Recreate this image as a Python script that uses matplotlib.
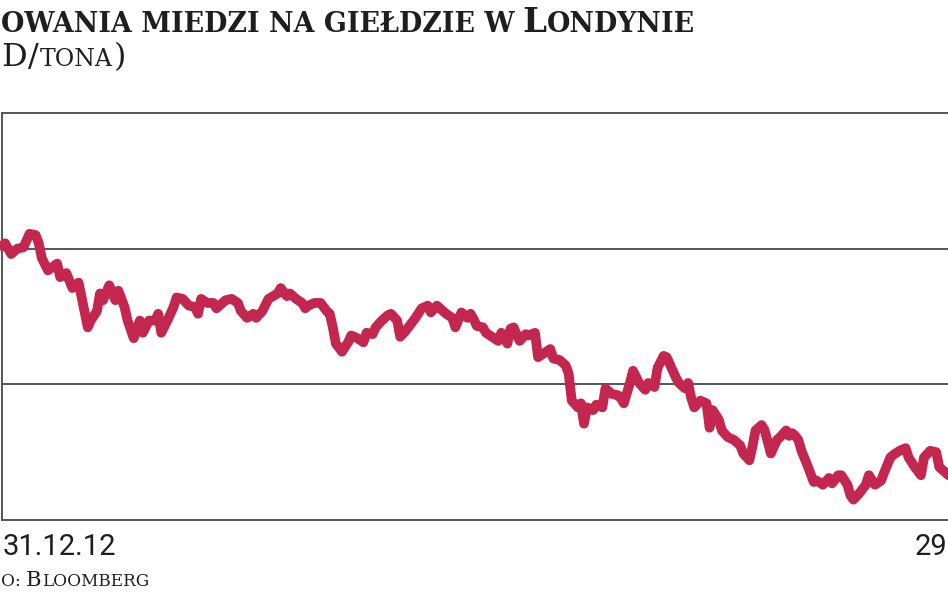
import matplotlib
matplotlib.use("Agg")
import matplotlib.pyplot as plt

# ---- data ----
day = [0, 1, 3, 5, 7, 9, 11, 12, 13, 15, 18, 19, 21, 23, 25, 26, 28, 29, 31, 32,
       33, 35, 37, 38, 40, 41, 43, 45, 46, 48, 50, 51, 52, 54, 56, 57, 59, 61, 63, 64,
       65, 67, 69, 70, 72, 73, 75, 77, 78, 80, 82, 83, 85, 87, 90, 91, 93, 94, 96, 98,
       99, 100, 102, 104, 106, 107, 108, 109, 111, 113, 114, 116, 118, 119, 121, 122, 124, 126, 127, 129,
       130, 132, 134, 135, 137, 139, 140, 142, 143, 145, 147, 148, 150, 152, 153, 154, 155, 157, 158, 160,
       162, 163, 165, 166, 167, 169, 171, 172, 174, 175, 177, 179, 180, 182, 184, 185, 186, 188, 189, 190,
       191, 193, 194, 196, 197, 199, 201, 202, 203, 205, 206, 208, 210, 211, 213, 214, 216, 217, 218, 220,
       221, 223, 224, 225, 226, 228, 229, 230, 231, 232, 234, 235, 237, 239, 241, 242, 244, 245, 246, 248,
       249, 251, 253, 254, 256, 257, 258, 259, 260, 261, 263, 265, 266, 268, 270, 271, 273, 274, 276, 277,
       278, 280, 282, 283, 285, 287, 288, 290, 291, 293, 295, 296, 298, 300, 301, 303, 305, 306, 308, 309,
       311]
price = [8010, 8020, 7980, 8000, 8005, 8055, 8050, 8020, 7965, 7920, 7945, 7895, 7910, 7855, 7875, 7820, 7710, 7735, 7770, 7835,
         7810, 7865, 7810, 7845, 7785, 7735, 7670, 7735, 7690, 7735, 7735, 7760, 7690, 7735, 7785, 7820, 7815, 7790, 7785, 7760,
         7815, 7800, 7800, 7780, 7800, 7810, 7815, 7800, 7770, 7745, 7760, 7745, 7770, 7815, 7835, 7855, 7825, 7835, 7815, 7800,
         7780, 7790, 7800, 7800, 7770, 7760, 7710, 7650, 7620, 7655, 7680, 7670, 7655, 7690, 7685, 7710, 7735, 7755, 7760, 7735,
         7675, 7700, 7730, 7745, 7780, 7790, 7765, 7790, 7780, 7760, 7745, 7710, 7765, 7745, 7760, 7740, 7715, 7710, 7690, 7675,
         7660, 7690, 7650, 7705, 7710, 7660, 7685, 7680, 7690, 7600, 7615, 7630, 7595, 7590, 7570, 7540, 7440, 7415, 7430, 7355,
         7415, 7405, 7425, 7415, 7485, 7465, 7460, 7450, 7430, 7505, 7550, 7505, 7480, 7505, 7490, 7560, 7605, 7600, 7575, 7525,
         7505, 7485, 7505, 7450, 7415, 7440, 7435, 7430, 7340, 7405, 7370, 7330, 7305, 7295, 7275, 7245, 7220, 7270, 7330, 7350,
         7330, 7245, 7295, 7305, 7330, 7310, 7320, 7310, 7295, 7255, 7200, 7140, 7145, 7130, 7155, 7135, 7165, 7165, 7130, 7090,
         7075, 7100, 7130, 7165, 7130, 7145, 7175, 7230, 7240, 7255, 7265, 7230, 7195, 7165, 7230, 7255, 7250, 7195, 7175, 7165,
         7155]

x_range = (0, 333)          # 31.12.12 .. end of period (days)
y_range = (7000, 8500)
grid_values = [7500, 8000]
start_label = "31.12.12"
end_label = "29"

title_parts = ["OWANIA MIEDZI NA GIEŁDZIE W", "L", "ONDYNIE"]
subtitle_parts = ["D", "/", "TONA", ")"]
source_parts = ["O: ", "B", "LOOMBERG"]

# ---- figure ----
W, H = 948, 593
fig = plt.figure(figsize=(W / 100, H / 100), dpi=100)
fig.patch.set_facecolor("white")

ax_left, ax_right, ax_top, ax_bottom = 2, 1022, 113, 520
ax = fig.add_axes([ax_left / W, 1 - ax_bottom / H, (ax_right - ax_left) / W, (ax_bottom - ax_top) / H])

line_col = "#c3264f"
grid_col = "#555555"
text_col = "#1e1e1e"

ax.plot(day, price, color=line_col, lw=7.0, solid_capstyle="round",
        solid_joinstyle="round", clip_on=False, zorder=3)
ax.set_xlim(*x_range)
ax.set_ylim(*y_range)
for g in grid_values:
    ax.axhline(g, color=grid_col, lw=1.4, zorder=1)
ax.set_xticks([])
ax.set_yticks([])
for s in ["left", "bottom", "top", "right"]:
    ax.spines[s].set_color(grid_col)
    ax.spines[s].set_linewidth(1.4)

renderer = fig.canvas.get_renderer()


def place(parts, sizes, x0, baseline, family, weight, gaps=None):
    x = x0
    for i, (s, fs) in enumerate(zip(parts, sizes)):
        t = fig.text(x / W, 1 - baseline / H, s, fontsize=fs, family=family,
                     weight=weight, color=text_col, ha="left", va="baseline")
        w = t.get_window_extent(renderer).width
        x += w
        if gaps is not None:
            x += gaps[i]
    return x


serif = ["DejaVu Serif"]
place(title_parts, [19.4, 24.5, 19.4], 1, 32, serif, "bold", gaps=[8, 0.5, 0])
place(subtitle_parts, [23.0, 23.0, 17.0, 23.0], 1, 66, serif, "normal", gaps=[1, 1, 1, 0])
place(source_parts, [12.2, 15.2, 12.2], 1, 586, serif, "normal", gaps=[0, 0.5, 0])

sans = ["Roboto", "DejaVu Sans"]
fig.text(3 / W, 1 - 555 / H, start_label, fontsize=21, family=sans,
         color=text_col, ha="left", va="baseline")
fig.text(947 / W, 1 - 555 / H, end_label, fontsize=21, family=sans,
         color=text_col, ha="right", va="baseline")

fig.savefig("out.png", dpi=100, facecolor="white")
